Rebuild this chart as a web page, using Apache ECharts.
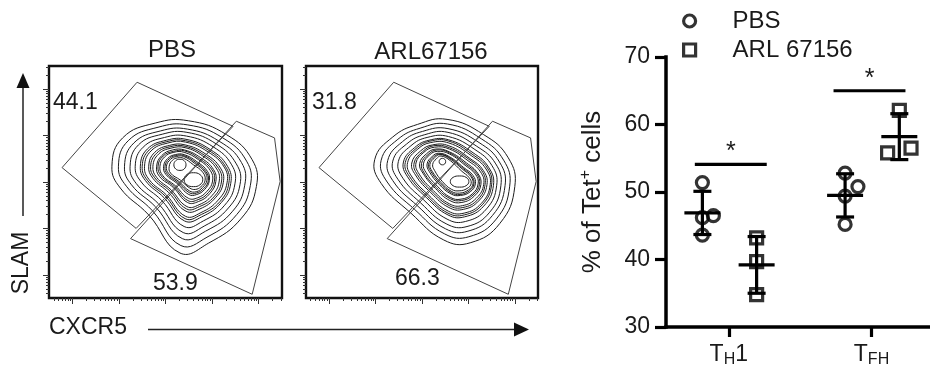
<!DOCTYPE html>
<html>
<head>
<meta charset="utf-8">
<script src="https://cdn.jsdelivr.net/npm/echarts@6/dist/echarts.min.js"></script>
<style>
  html, body { margin: 0; padding: 0; background: #fff; }
  #chart { width: 930px; height: 383px; }
</style>
</head>
<body>
<div id="chart"></div>
<script>
const FONT = '"Liberation Sans", Arial, sans-serif';
const INK = '#1a1a1a';

// ---------- flow panels (CXCR5 vs SLAM, log decades) ----------
const flowTitles = ['PBS', 'ARL67156'];
const gateFreqPbs = [44.1, 53.9];
const gateFreqArl = [31.8, 66.3];
const flowMajorTicks = [0, 1, 2, 3, 4];

const gateUpper = [[-0.22, 2.31], [1.39, 4.15], [3.45, 3.20], [1.37, 1.00]];
const gateLower = [[3.52, 3.31], [4.34, 2.95], [4.46, 2.01], [3.86, -0.42], [1.25, 0.78]];

const pbsContours = [
  [[0.85,2.34],[1.08,2.95],[1.78,3.27],[2.49,3.32],[3.31,3.02],[3.86,2.48],[3.95,1.90],[3.63,1.22],[2.92,0.68],[2.31,0.47],[1.64,1.29],[1.03,1.87]],
  [[0.99,2.34],[1.20,2.89],[1.84,3.18],[2.48,3.23],[3.23,2.95],[3.74,2.45],[3.82,1.92],[3.53,1.30],[2.89,0.81],[2.33,0.63],[1.72,1.38],[1.16,1.91]],
  [[1.12,2.34],[1.32,2.84],[1.89,3.10],[2.47,3.14],[3.15,2.88],[3.63,2.42],[3.70,1.93],[3.44,1.37],[2.86,0.94],[2.36,0.78],[1.79,1.46],[1.27,1.94]],
  [[1.24,2.34],[1.42,2.80],[1.93,3.03],[2.46,3.07],[3.09,2.82],[3.52,2.39],[3.60,1.95],[3.35,1.44],[2.83,1.05],[2.38,0.91],[1.85,1.53],[1.37,1.97]],
  [[1.35,2.34],[1.52,2.75],[1.98,2.96],[2.45,2.99],[3.02,2.76],[3.42,2.37],[3.49,1.96],[3.27,1.50],[2.81,1.16],[2.40,1.04],[1.92,1.60],[1.48,2.00]],
  [[1.46,2.34],[1.61,2.71],[2.02,2.90],[2.44,2.92],[2.96,2.70],[3.33,2.34],[3.40,1.97],[3.20,1.56],[2.78,1.25],[2.41,1.16],[1.97,1.66],[1.57,2.03]],
  [[1.50,2.34],[1.65,2.69],[2.03,2.87],[2.43,2.89],[2.93,2.68],[3.29,2.33],[3.36,1.98],[3.17,1.58],[2.77,1.30],[2.42,1.21],[2.00,1.69],[1.61,2.04]],
  [[1.55,2.34],[1.69,2.67],[2.05,2.84],[2.43,2.86],[2.91,2.65],[3.26,2.32],[3.32,1.98],[3.13,1.61],[2.76,1.34],[2.43,1.26],[2.02,1.72],[1.65,2.05]],
  [[1.64,2.34],[1.77,2.64],[2.09,2.79],[2.42,2.80],[2.85,2.61],[3.18,2.30],[3.24,1.99],[3.07,1.66],[2.74,1.42],[2.44,1.37],[2.07,1.77],[1.73,2.08]],
  [[1.68,2.34],[1.81,2.62],[2.10,2.76],[2.42,2.77],[2.83,2.58],[3.14,2.29],[3.20,2.00],[3.04,1.68],[2.73,1.47],[2.45,1.42],[2.10,1.80],[1.77,2.09]],
  [[1.73,2.34],[1.85,2.60],[2.12,2.73],[2.42,2.74],[2.80,2.56],[3.10,2.28],[3.15,2.00],[3.00,1.71],[2.72,1.51],[2.46,1.47],[2.12,1.83],[1.81,2.10]],
  [[1.81,2.34],[1.92,2.57],[2.15,2.69],[2.41,2.69],[2.76,2.52],[3.03,2.27],[3.08,2.01],[2.95,1.75],[2.71,1.58],[2.47,1.56],[2.17,1.88],[1.87,2.12]],
  [[1.84,2.34],[1.95,2.56],[2.17,2.66],[2.41,2.67],[2.73,2.50],[3.00,2.26],[3.05,2.02],[2.92,1.77],[2.70,1.62],[2.48,1.60],[2.19,1.90],[1.91,2.13]],
  [[1.88,2.34],[1.98,2.54],[2.18,2.64],[2.40,2.64],[2.71,2.48],[2.96,2.25],[3.01,2.02],[2.89,1.80],[2.69,1.66],[2.49,1.65],[2.21,1.92],[1.94,2.14]],
  [[1.96,2.34],[2.05,2.51],[2.21,2.59],[2.40,2.59],[2.67,2.44],[2.90,2.23],[2.94,2.03],[2.84,1.84],[2.67,1.73],[2.50,1.73],[2.25,1.97],[2.01,2.16]],
  [[1.99,2.34],[2.08,2.50],[2.22,2.57],[2.39,2.57],[2.65,2.42],[2.87,2.22],[2.92,2.03],[2.82,1.86],[2.66,1.76],[2.51,1.77],[2.27,1.99],[2.04,2.17]],
  [[2.02,2.34],[2.11,2.49],[2.24,2.55],[2.39,2.55],[2.63,2.40],[2.84,2.22],[2.89,2.04],[2.79,1.88],[2.66,1.79],[2.51,1.81],[2.29,2.01],[2.07,2.18]],
  [[2.08,2.34],[2.15,2.47],[2.26,2.52],[2.39,2.51],[2.60,2.37],[2.80,2.21],[2.85,2.04],[2.76,1.90],[2.64,1.84],[2.52,1.87],[2.32,2.04],[2.11,2.19]],
  [[2.18,2.37],[2.22,2.46],[2.31,2.49],[2.40,2.46],[2.44,2.37],[2.40,2.28],[2.31,2.25],[2.22,2.28]],
  [[2.40,2.05],[2.46,2.16],[2.60,2.20],[2.74,2.16],[2.80,2.05],[2.74,1.94],[2.60,1.90],[2.46,1.94]]
];

const arlContours = [
  [[0.98,2.48],[1.37,2.97],[1.90,3.24],[2.54,3.35],[3.33,3.02],[3.86,2.52],[4.00,1.90],[3.68,1.11],[3.04,0.69],[2.47,0.75],[1.76,1.33],[1.12,1.97]],
  [[1.12,2.47],[1.48,2.92],[1.96,3.16],[2.55,3.25],[3.28,2.93],[3.76,2.47],[3.89,1.91],[3.60,1.20],[3.01,0.82],[2.49,0.88],[1.84,1.41],[1.25,2.00]],
  [[1.26,2.46],[1.58,2.87],[2.01,3.09],[2.56,3.15],[3.23,2.85],[3.67,2.43],[3.79,1.92],[3.52,1.28],[2.99,0.94],[2.51,0.99],[1.91,1.48],[1.37,2.03]],
  [[1.37,2.45],[1.67,2.82],[2.06,3.02],[2.56,3.07],[3.18,2.77],[3.59,2.39],[3.70,1.92],[3.46,1.35],[2.97,1.04],[2.52,1.10],[1.97,1.55],[1.48,2.06]],
  [[1.49,2.44],[1.76,2.78],[2.11,2.96],[2.57,2.98],[3.14,2.70],[3.51,2.35],[3.61,1.93],[3.39,1.42],[2.94,1.15],[2.54,1.20],[2.04,1.61],[1.59,2.08]],
  [[1.60,2.43],[1.84,2.74],[2.15,2.90],[2.57,2.91],[3.10,2.63],[3.44,2.31],[3.54,1.93],[3.33,1.48],[2.92,1.25],[2.56,1.29],[2.09,1.67],[1.69,2.11]],
  [[1.64,2.42],[1.87,2.72],[2.17,2.88],[2.58,2.88],[3.08,2.60],[3.41,2.30],[3.50,1.94],[3.30,1.51],[2.91,1.29],[2.56,1.33],[2.12,1.69],[1.73,2.12]],
  [[1.69,2.42],[1.91,2.71],[2.19,2.85],[2.58,2.84],[3.06,2.57],[3.38,2.28],[3.47,1.94],[3.28,1.54],[2.91,1.33],[2.57,1.37],[2.14,1.72],[1.77,2.13]],
  [[1.78,2.41],[1.97,2.67],[2.23,2.80],[2.58,2.78],[3.03,2.51],[3.32,2.25],[3.40,1.94],[3.22,1.59],[2.89,1.41],[2.58,1.45],[2.19,1.77],[1.86,2.15]],
  [[1.83,2.41],[2.01,2.65],[2.25,2.78],[2.59,2.74],[3.01,2.49],[3.29,2.24],[3.36,1.95],[3.20,1.62],[2.88,1.45],[2.59,1.49],[2.22,1.79],[1.90,2.16]],
  [[1.87,2.41],[2.04,2.64],[2.27,2.75],[2.59,2.71],[2.99,2.46],[3.26,2.22],[3.33,1.95],[3.17,1.65],[2.87,1.49],[2.59,1.53],[2.24,1.82],[1.94,2.17]],
  [[1.95,2.40],[2.10,2.61],[2.30,2.71],[2.59,2.65],[2.96,2.41],[3.20,2.19],[3.27,1.95],[3.13,1.70],[2.86,1.56],[2.60,1.60],[2.29,1.86],[2.02,2.19]],
  [[1.99,2.40],[2.13,2.59],[2.32,2.69],[2.59,2.63],[2.95,2.38],[3.18,2.18],[3.24,1.95],[3.10,1.72],[2.85,1.60],[2.61,1.64],[2.31,1.88],[2.05,2.19]],
  [[2.03,2.39],[2.16,2.58],[2.33,2.66],[2.60,2.60],[2.93,2.36],[3.15,2.17],[3.21,1.96],[3.08,1.74],[2.84,1.63],[2.61,1.67],[2.33,1.91],[2.09,2.20]],
  [[2.11,2.39],[2.22,2.55],[2.36,2.62],[2.60,2.54],[2.90,2.31],[3.10,2.14],[3.15,1.96],[3.04,1.79],[2.83,1.71],[2.63,1.74],[2.37,1.95],[2.16,2.22]],
  [[2.14,2.38],[2.25,2.54],[2.38,2.60],[2.60,2.52],[2.89,2.29],[3.07,2.13],[3.12,1.96],[3.02,1.81],[2.82,1.73],[2.63,1.77],[2.39,1.97],[2.19,2.23]],
  [[2.17,2.38],[2.27,2.52],[2.39,2.59],[2.60,2.50],[2.88,2.27],[3.05,2.12],[3.10,1.96],[3.00,1.83],[2.81,1.76],[2.63,1.80],[2.41,1.99],[2.22,2.23]],
  [[2.23,2.38],[2.31,2.50],[2.41,2.56],[2.61,2.46],[2.86,2.23],[3.01,2.10],[3.06,1.97],[2.97,1.86],[2.80,1.81],[2.64,1.84],[2.44,2.01],[2.27,2.25]],
  [[2.37,2.44],[2.39,2.49],[2.44,2.51],[2.49,2.49],[2.51,2.44],[2.49,2.39],[2.44,2.37],[2.39,2.39]],
  [[2.61,2.01],[2.67,2.10],[2.81,2.13],[2.95,2.10],[3.01,2.01],[2.95,1.92],[2.81,1.89],[2.67,1.92]]
];

// ---------- dot plot: % of Tet+ cells ----------
const groups = ['PBS', 'ARL 67156'];
const cellTypes = ['TH1', 'TFH'];
const pbsTh1 = [51.4, 46.2, 46.5, 43.6];
const pbsTfh = [52.8, 50.8, 49.4, 45.2];
const arlTh1 = [43.2, 39.7, 34.8];
const arlTfh = [62.1, 55.8, 56.5];
const pbsMean = [46.9, 49.5];
const pbsSd = [3.2, 3.2];
const arlMean = [39.2, 58.2];
const arlSd = [4.2, 3.4];

// log minor ticks between decades
const flowMinorTicks = [];
for (let k = -1; k <= 4; k++) {
  for (let m = 2; m <= 9; m++) {
    const t = k + Math.log10(m);
    if (t > -0.5 && t < 4.5) flowMinorTicks.push(t);
  }
}

function flowAxis(gridIndex, position, ticks, len) {
  return {
    gridIndex, position, type: 'value', min: -0.5, max: 4.5,
    axisLine: { show: false, onZero: false }, splitLine: { show: false }, axisLabel: { show: false },
    axisTick: { show: true, customValues: ticks, length: len, lineStyle: { color: '#333', width: 1 } }
  };
}

function polySeries(rings, axisIndex, smooth, stroke, width) {
  return {
    type: 'custom', xAxisIndex: axisIndex, yAxisIndex: axisIndex, silent: true,
    data: rings.map((r, i) => [i]),
    renderItem(params, api) {
      const pts = rings[params.dataIndex].map(p => api.coord(p));
      return { type: 'polygon', shape: { points: pts, smooth: smooth },
        style: { fill: 'none', stroke: stroke, lineWidth: width } };
    }
  };
}

// jitter / group offsets (layout only)
const pbsOffset = -0.185, arlOffset = 0.195;
const pbsJitter = [[0, 0, 0.077, 0], [0, 0.09, 0, 0]];
const arlJitter = [[0, 0, 0], [0, -0.082, 0.082]];

function points(byCat, offset, jitter) {
  const out = [];
  byCat.forEach((vals, c) => vals.forEach((v, i) => out.push([c + 1 + offset + jitter[c][i], v])));
  return out;
}

function meanSdSeries(means, sds, offset) {
  return {
    type: 'custom', xAxisIndex: 4, yAxisIndex: 4, silent: true, z: 3,
    data: means.map((m, i) => [i + 1 + offset, m, sds[i]]),
    renderItem(params, api) {
      const x = api.value(0), m = api.value(1), s = api.value(2);
      const c = api.coord([x, m]);
      const hi = api.coord([x, m + s])[1], lo = api.coord([x, m - s])[1];
      const st = { stroke: '#000', lineWidth: 3.2 };
      return { type: 'group', children: [
        { type: 'line', shape: { x1: c[0], y1: hi, x2: c[0], y2: lo }, style: st },
        { type: 'line', shape: { x1: c[0] - 18, y1: c[1], x2: c[0] + 18, y2: c[1] }, style: st },
        { type: 'line', shape: { x1: c[0] - 9, y1: hi, x2: c[0] + 9, y2: hi }, style: st },
        { type: 'line', shape: { x1: c[0] - 9, y1: lo, x2: c[0] + 9, y2: lo }, style: st }
      ] };
    }
  };
}

const catLabels = ['{t|T}{s|H}{t|1}', '{t|T}{s|FH}'];

const chart = echarts.init(document.getElementById('chart'), null, { renderer: 'canvas' });

const txt = (text, x, y, size, align, extra) => Object.assign({
  type: 'text', x: x, y: y, silent: true,
  style: { text: text, fontSize: size, fontFamily: FONT, fill: INK, align: align, verticalAlign: 'middle' }
}, extra || {});

const option = {
  animation: false,
  textStyle: { fontFamily: FONT, color: INK },
  grid: [
    { left: 49, top: 66, width: 233, height: 232, show: true, borderColor: '#111', borderWidth: 2.4 },
    { left: 306, top: 66, width: 232, height: 232, show: true, borderColor: '#111', borderWidth: 2.4 },
    { left: 666, top: 57, right: 0, height: 270 }
  ],
  xAxis: [
    flowAxis(0, 'bottom', flowMajorTicks, 6), flowAxis(0, 'bottom', flowMinorTicks, 3),
    flowAxis(1, 'bottom', flowMajorTicks, 6), flowAxis(1, 'bottom', flowMinorTicks, 3),
    {
      gridIndex: 2, position: 'bottom', type: 'value', min: 0.56, max: 2.41,
      splitLine: { show: false },
      axisLine: { show: true, onZero: false, lineStyle: { color: '#000', width: 3.5, cap: 'square' } },
      axisTick: { show: true, customValues: [1, 2], length: 10, lineStyle: { color: '#000', width: 3.2 } },
      axisLabel: {
        customValues: [1, 2], margin: 14, color: INK,
        formatter: v => catLabels[Math.round(v) - 1],
        rich: {
          t: { fontSize: 23, lineHeight: 27, fontFamily: FONT, color: INK },
          s: { fontSize: 16, lineHeight: 16, verticalAlign: 'bottom', fontFamily: FONT, color: INK }
        }
      }
    }
  ],
  yAxis: [
    flowAxis(0, 'left', flowMajorTicks, 6), flowAxis(0, 'left', flowMinorTicks, 3),
    flowAxis(1, 'left', flowMajorTicks, 6), flowAxis(1, 'left', flowMinorTicks, 3),
    {
      gridIndex: 2, position: 'left', type: 'value', min: 30, max: 70, interval: 10,
      splitLine: { show: false },
      axisLine: { show: true, onZero: false, lineStyle: { color: '#000', width: 3.5, cap: 'square' } },
      axisTick: { show: true, length: 11, lineStyle: { color: '#000', width: 3.2 } },
      axisLabel: { fontSize: 23, margin: 16, color: INK, fontFamily: FONT },
      name: '{a|% of Tet}{s|+}{a| cells}',
      nameLocation: 'middle', nameRotate: 90, nameGap: 58,
      nameTextStyle: {
        rich: {
          a: { fontSize: 26, lineHeight: 30, fontFamily: FONT, color: INK },
          s: { fontSize: 16, lineHeight: 15, verticalAlign: 'top', fontFamily: FONT, color: INK }
        }
      }
    }
  ],
  legend: {
    data: groups, orient: 'vertical', left: 682, top: 9, padding: 0,
    itemWidth: 12, itemHeight: 12, itemGap: 5,
    itemStyle: { borderWidth: 3.2, borderColor: '#000', color: 'rgba(255,255,255,0)' },
    textStyle: { fontSize: 24, color: INK, fontFamily: FONT, padding: [0, 0, 0, 32] }
  },
  series: [
    polySeries(pbsContours, 0, 0.45, '#1c1c1c', 1),
    polySeries([gateUpper, gateLower], 0, 0, '#444', 1),
    polySeries(arlContours, 2, 0.45, '#1c1c1c', 1),
    polySeries([gateUpper, gateLower], 2, 0, '#444', 1),
    {
      type: 'scatter', name: groups[0], xAxisIndex: 4, yAxisIndex: 4, z: 4,
      symbol: 'circle', symbolSize: 12,
      itemStyle: { color: 'rgba(255,255,255,0)', borderColor: '#000', borderWidth: 3.2 },
      data: points([pbsTh1, pbsTfh], pbsOffset, pbsJitter)
    },
    {
      type: 'scatter', name: groups[1], xAxisIndex: 4, yAxisIndex: 4, z: 4,
      symbol: 'rect', symbolSize: 12,
      itemStyle: { color: 'rgba(255,255,255,0)', borderColor: '#000', borderWidth: 3.2 },
      data: points([arlTh1, arlTfh], arlOffset, arlJitter)
    },
    meanSdSeries(pbsMean, pbsSd, pbsOffset),
    meanSdSeries(arlMean, arlSd, arlOffset),
    {
      type: 'custom', xAxisIndex: 4, yAxisIndex: 4, silent: true,
      data: [[0.762, 1.266, 54.1], [1.734, 2.238, 65.0]],
      renderItem(params, api) {
        const a = api.coord([api.value(0), api.value(2)]);
        const b = api.coord([api.value(1), api.value(2)]);
        return { type: 'group', children: [
          { type: 'line', shape: { x1: a[0], y1: a[1], x2: b[0], y2: b[1] }, style: { stroke: '#000', lineWidth: 3.2 } },
          { type: 'text', x: (a[0] + b[0]) / 2, y: a[1] - 12,
            style: { text: '*', fontSize: 25, fontFamily: FONT, fill: INK, align: 'center', verticalAlign: 'middle' } }
        ] };
      }
    }
  ],
  graphic: [
    txt(flowTitles[0], 172, 50, 24, 'center'),
    txt(flowTitles[1], 431, 52, 24, 'center'),
    txt(String(gateFreqPbs[0]), 53, 102.5, 23, 'left'),
    txt(String(gateFreqPbs[1]), 153, 284, 23, 'left'),
    txt(String(gateFreqArl[0]), 312, 102.5, 23, 'left'),
    txt(String(gateFreqArl[1]), 395, 278.5, 23, 'left'),
    txt('SLAM', 22, 263, 23, 'center', { rotation: Math.PI / 2 }),
    txt('CXCR5', 49, 328, 23, 'left'),
    { type: 'line', silent: true, shape: { x1: 23, y1: 216, x2: 23, y2: 86 }, style: { stroke: '#222', lineWidth: 1.5 } },
    { type: 'polygon', silent: true, shape: { points: [[23, 73], [16.5, 88], [29.5, 88]] }, style: { fill: '#111' } },
    { type: 'line', silent: true, shape: { x1: 148, y1: 329.5, x2: 516, y2: 329.5 }, style: { stroke: '#222', lineWidth: 1.5 } },
    { type: 'polygon', silent: true, shape: { points: [[529, 329.5], [514, 322.5], [514, 336.5]] }, style: { fill: '#111' } }
  ]
};

chart.setOption(option);
</script>
</body>
</html>
